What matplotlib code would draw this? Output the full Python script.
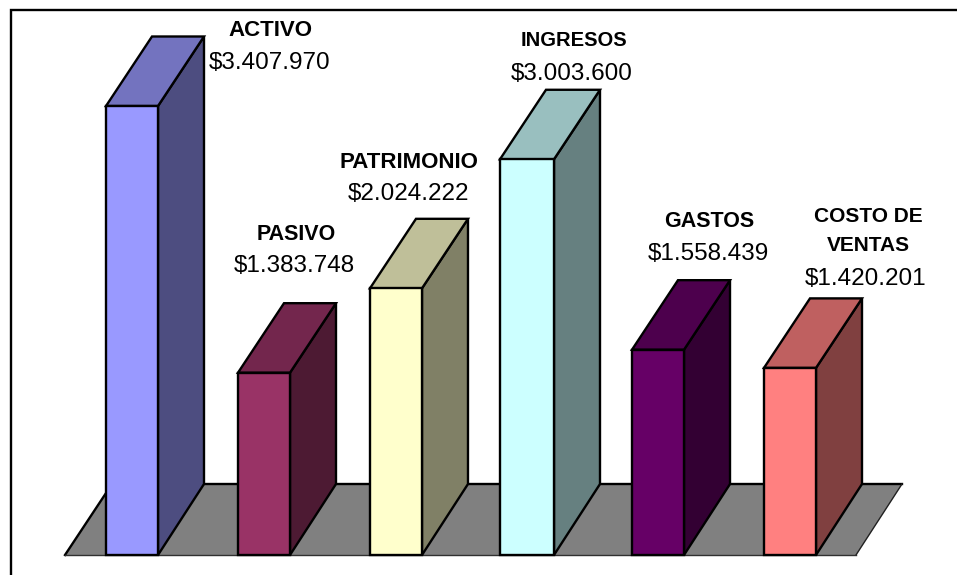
import matplotlib
matplotlib.use('Agg')
import matplotlib.pyplot as plt
from matplotlib.lines import Line2D
from matplotlib.colors import to_rgb
import numpy as np

categories = ['ACTIVO', 'PASIVO', 'PATRIMONIO', 'INGRESOS', 'GASTOS', 'COSTO DE\nVENTAS']
values = [3407970, 1383748, 2024222, 3003600, 1558439, 1420201]
value_labels = ['$3.407.970', '$1.383.748', '$2.024.222', '$3.003.600', '$1.558.439', '$1.420.201']
colors = ['#9999FF', '#993366', '#FFFFCC', '#CCFFFF', '#660066', '#FF8080']
bar_pos = [0, 1.003, 2.006, 3.0015, 3.997, 5.0]
bar_px = [52, 52, 52, 54, 52, 52]
name_size = [16, 15.5, 16, 14.5, 15.5, 15]

W, H = 957, 575
# scale of the original picture
px_per_cat = 131.6
px_per_val = 449 / 3407970
x0_px = 132
base_px = 555

plt.rcParams['font.family'] = ['Liberation Sans', 'DejaVu Sans']

fig = plt.figure(figsize=(W / 100, H / 100), dpi=100)
ax = fig.add_axes([0, 0, 1, 1])
ax.set_xlim(-x0_px / px_per_cat, (W - x0_px) / px_per_cat)
ax.set_ylim(-(H - base_px) / px_per_val, base_px / px_per_val)
ax.axis('off')

dx = 46 / px_per_cat
dy_top = 69.5 / px_per_val
dy_floor = 71 / px_per_val
lw = 1.7


def shade(col, f):
    return tuple(c * f for c in to_rgb(col))


# floor
fx = (np.array([65, 112, 902, 856]) - x0_px) / px_per_cat
fy = np.array([0, dy_floor, dy_floor, 0])
ax.fill(fx, fy, color='#808080', lw=0, zorder=1)
ax.plot(fx[:3], fy[:3], color='black', lw=lw, solid_joinstyle='miter', zorder=1.1)
ax.plot(fx[2:], fy[2:], color='#202020', lw=1, zorder=1.1)
ax.plot([fx[0], fx[3]], [0, 0], color='#303030', lw=1, zorder=1.1)

# bars
for i, (p, v, c, w) in enumerate(zip(bar_pos, values, colors, bar_px)):
    bar_w = w / px_per_cat
    l = p - bar_w / 2
    r = p + bar_w / 2
    z = 2 + i
    ax.fill([r, r + dx, r + dx, r], [0, dy_floor, v + dy_top, v], facecolor=shade(c, 0.5),
            edgecolor='black', lw=lw, joinstyle='miter', zorder=z)
    ax.fill([l, r, r + dx, l + dx], [v, v, v + dy_top, v + dy_top], facecolor=shade(c, 0.75),
            edgecolor='black', lw=lw, joinstyle='miter', zorder=z)
    ax.bar(p, v, width=bar_w, color=c, edgecolor='black', lw=lw, zorder=z)

# labels, placed in picture pixels
name_xy = [(270, 31), (296, 234), (409, 163), (574, 41), (709, 222), (868, 231)]
value_xy = [(270, 63), (294, 266), (408, 194), (572, 74), (708, 254), (866, 279)]
for name, val, fs, (nx, ny), (vx, vy) in zip(categories, value_labels, name_size, name_xy, value_xy):
    fig.text(nx / W, 1 - ny / H, name, ha='center', va='center', fontsize=fs,
             fontweight='bold', color='black', linespacing=1.65)
    fig.text(vx / W, 1 - vy / H, val, ha='center', va='center', fontsize=17.5, color='black')

# frame around the chart, runs off the right and bottom of the picture
fig.add_artist(Line2D([10.5 / W, 10.5 / W, 1], [0, 1 - 9.5 / H, 1 - 9.5 / H],
                      color='black', lw=1.7, solid_joinstyle='miter'))

fig.savefig('out.png', dpi=100, facecolor='white')
